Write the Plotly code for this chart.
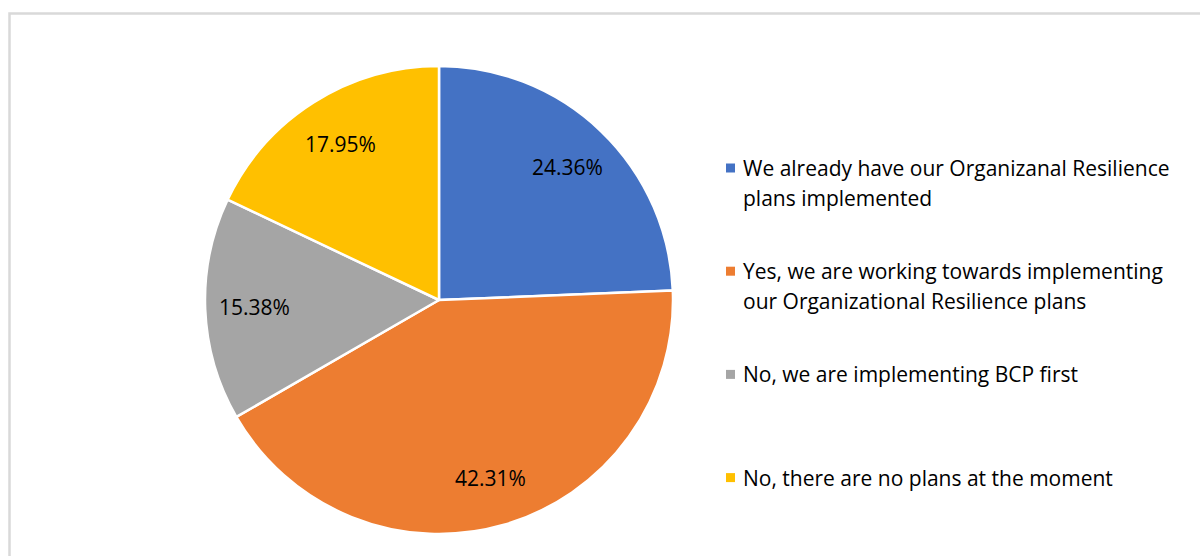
import math
import plotly.graph_objects as go

# Survey answers and their shares (%)
labels = [
    "We already have our Organizanal Resilience<br>plans implemented",
    "Yes, we are working towards implementing<br>our Organizational Resilience plans",
    "No, we are implementing BCP first",
    "No, there are no plans at the moment",
]
shares = [24.36, 42.31, 15.38, 17.95]
colors = ["#4472C4", "#ED7D31", "#A5A5A5", "#FFC000"]

W, H = 1200, 556
FONT = "Open Sans"
FONT_SIZE = 21
CX, CY, R = 439, 300, 234  # pie centre and radius in pixels

def px(x):
    return x / W

def py(y):
    return 1 - y / H

fig = go.Figure()
fig.add_trace(go.Pie(
    labels=labels,
    values=shares,
    sort=False,
    direction="clockwise",
    rotation=0,
    marker=dict(colors=colors, line=dict(color="white", width=2.5)),
    textinfo="none",
    showlegend=False,
    hoverinfo="label+value",
    domain=dict(x=[px(CX - R), px(CX + R)], y=[py(CY + R), py(CY - R)]),
))

annotations = []

# Percentage labels sit at the middle angle of each slice, near the rim
total = sum(shares)
cum = 0.0
for v in shares:
    mid = (cum + v / 2) / total * 2 * math.pi
    cum += v
    r = 0.79 * R
    x = CX + r * math.sin(mid)
    y = CY - r * math.cos(mid)
    annotations.append(dict(
        text=f"{v:.2f}%", xref="paper", yref="paper",
        x=px(x), y=py(y), xanchor="center", yanchor="middle",
        showarrow=False, font=dict(family=FONT, size=FONT_SIZE, color="#000000"),
    ))

# Chart-area frame
shapes = [dict(type="rect", xref="paper", yref="paper",
               x0=px(9.5), x1=px(1210), y0=py(570), y1=py(13.5),
               line=dict(color="#D9D9D9", width=2.5), fillcolor="rgba(0,0,0,0)")]

# Legend drawn as colour squares with wrapped captions in equal slots
slot_top, slot_step, line_step = 168, 103.2, 29.5
for i, (lab, col) in enumerate(zip(labels, colors)):
    yc = slot_top + i * slot_step
    shapes.append(dict(type="rect", xref="paper", yref="paper",
                       x0=px(726), x1=px(735), y0=py(yc + 4.5), y1=py(yc - 4.5),
                       line=dict(width=0), fillcolor=col))
    for j, line in enumerate(lab.split("<br>")):
        annotations.append(dict(
            text=line, xref="paper", yref="paper",
            x=px(741), y=py(yc + j * line_step), xanchor="left", yanchor="middle",
            showarrow=False, align="left",
            font=dict(family=FONT, size=FONT_SIZE, color="#000000"),
        ))

fig.update_layout(
    width=W, height=H,
    margin=dict(l=0, r=0, t=0, b=0),
    paper_bgcolor="white",
    plot_bgcolor="white",
    shapes=shapes,
    annotations=annotations,
)

fig.write_html("out.html")
